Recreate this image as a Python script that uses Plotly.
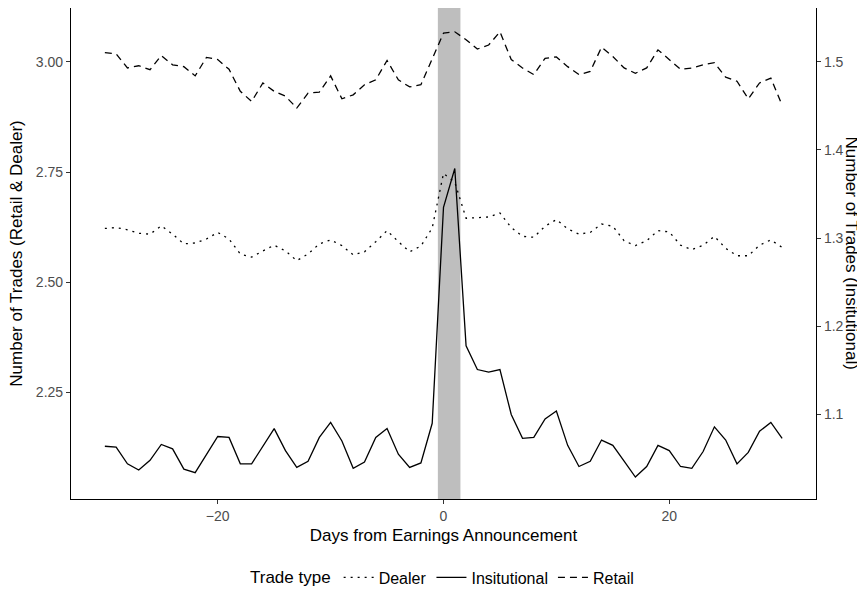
import plotly.graph_objects as go

# Days relative to the earnings announcement
days = list(range(-30, 31))

# Average number of trades per day, by trade type
dealer = [2.622, 2.624, 2.619, 2.611, 2.609, 2.628, 2.609, 2.587, 2.589, 2.598,
          2.613, 2.598, 2.564, 2.557, 2.571, 2.584, 2.571, 2.549, 2.564, 2.587,
          2.596, 2.583, 2.562, 2.569, 2.592, 2.617, 2.592, 2.569, 2.582, 2.623,
          2.747,
          2.727, 2.645, 2.646, 2.648, 2.657, 2.624, 2.604, 2.602, 2.627, 2.642,
          2.621, 2.609, 2.613, 2.632, 2.627, 2.594, 2.583, 2.594, 2.617, 2.614,
          2.584, 2.574, 2.584, 2.604, 2.577, 2.560, 2.560, 2.584, 2.596, 2.579]

institutional = [1.064, 1.063, 1.044, 1.037, 1.048, 1.066, 1.061, 1.038, 1.034, 1.054,
                 1.075, 1.074, 1.044, 1.044, 1.064, 1.084, 1.059, 1.040, 1.047, 1.074,
                 1.091, 1.070, 1.039, 1.046, 1.074, 1.084, 1.055, 1.040, 1.045, 1.090,
                 1.335,
                 1.379, 1.178, 1.151, 1.148, 1.151, 1.100, 1.073, 1.074, 1.095, 1.104,
                 1.065, 1.041, 1.047, 1.071, 1.065, 1.047, 1.029, 1.041, 1.065, 1.059,
                 1.041, 1.039, 1.058, 1.086, 1.071, 1.044, 1.057, 1.081, 1.091, 1.073]

retail = [3.021, 3.018, 2.986, 2.991, 2.982, 3.014, 2.993, 2.989, 2.968, 3.010,
          3.005, 2.983, 2.933, 2.910, 2.952, 2.933, 2.922, 2.895, 2.929, 2.931,
          2.968, 2.916, 2.925, 2.948, 2.959, 3.003, 2.959, 2.943, 2.948, 3.005,
          3.065,
          3.068, 3.050, 3.029, 3.038, 3.068, 3.005, 2.986, 2.971, 3.008, 3.011,
          2.989, 2.971, 2.978, 3.033, 3.012, 2.986, 2.974, 2.986, 3.027, 3.005,
          2.983, 2.986, 2.993, 2.998, 2.965, 2.956, 2.916, 2.952, 2.963, 2.901]

# Announcement window highlighted in grey
window = [-0.5, 1.5]

x_ticks = [-20, 0, 20]
x_ticktext = ["\u221220", "0", "20"]
left_ticks = [2.25, 2.50, 2.75, 3.00]
right_ticks = [1.1, 1.2, 1.3, 1.4, 1.5]

FONT = "Liberation Sans, Arial, Helvetica, sans-serif"
TICK_COLOR = "#4d4d4d"

fig = go.Figure()

fig.add_trace(go.Scatter(
    x=days, y=dealer, name="Dealer", mode="lines",
    line=dict(color="black", width=1.3, dash="2px,5px"),
))
fig.add_trace(go.Scatter(
    x=days, y=institutional, name="Insitutional", mode="lines", yaxis="y2",
    line=dict(color="black", width=1.3),
))
fig.add_trace(go.Scatter(
    x=days, y=retail, name="Retail", mode="lines",
    line=dict(color="black", width=1.3, dash="7px,5px"),
))

fig.add_shape(
    type="rect", xref="x", yref="paper",
    x0=window[0], x1=window[1], y0=0, y1=1,
    fillcolor="#bebebe", line=dict(width=0), layer="below",
)

axis_common = dict(
    showgrid=False, zeroline=False,
    showline=True, linecolor="black", linewidth=1.2,
    ticks="outside", ticklen=4, tickwidth=1, tickcolor="#333333",
    tickfont=dict(family=FONT, size=14, color=TICK_COLOR),
)

fig.update_layout(
    width=857, height=603,
    margin=dict(l=71, r=41, t=8, b=102),
    plot_bgcolor="white", paper_bgcolor="white",
    font=dict(family=FONT, color="black"),
    xaxis=dict(
        range=[-33, 33], tickvals=x_ticks, ticktext=x_ticktext,
        title=dict(text="Days from Earnings Announcement",
                   font=dict(family=FONT, size=17, color="black"), standoff=6),
        **axis_common,
    ),
    yaxis=dict(
        range=[2.0083, 3.122], tickvals=left_ticks, tickformat=".2f",
        title=dict(text="Number of Trades (Retail & Dealer)",
                   font=dict(family=FONT, size=17, color="black"), standoff=8),
        **axis_common,
    ),
    yaxis2=dict(
        range=[1.00415, 1.561], tickvals=right_ticks, tickformat=".1f",
        overlaying="y", side="right",
        **axis_common,
    ),
    legend=dict(
        orientation="h", x=0.5, xanchor="center", y=-0.16, yanchor="middle",
        title=dict(text="Trade type", font=dict(family=FONT, size=17)),
        font=dict(family=FONT, size=16, color="black"),
        itemwidth=30, tracegroupgap=0,
    ),
    showlegend=True,
)

# Right-hand axis title, reading top to bottom
fig.add_annotation(
    text="Number of Trades (Insitutional)",
    xref="paper", yref="paper", x=1.0483, y=0.5,
    xanchor="center", yanchor="middle", textangle=90,
    showarrow=False, font=dict(family=FONT, size=17, color="black"),
)

fig.write_html("out.html")
